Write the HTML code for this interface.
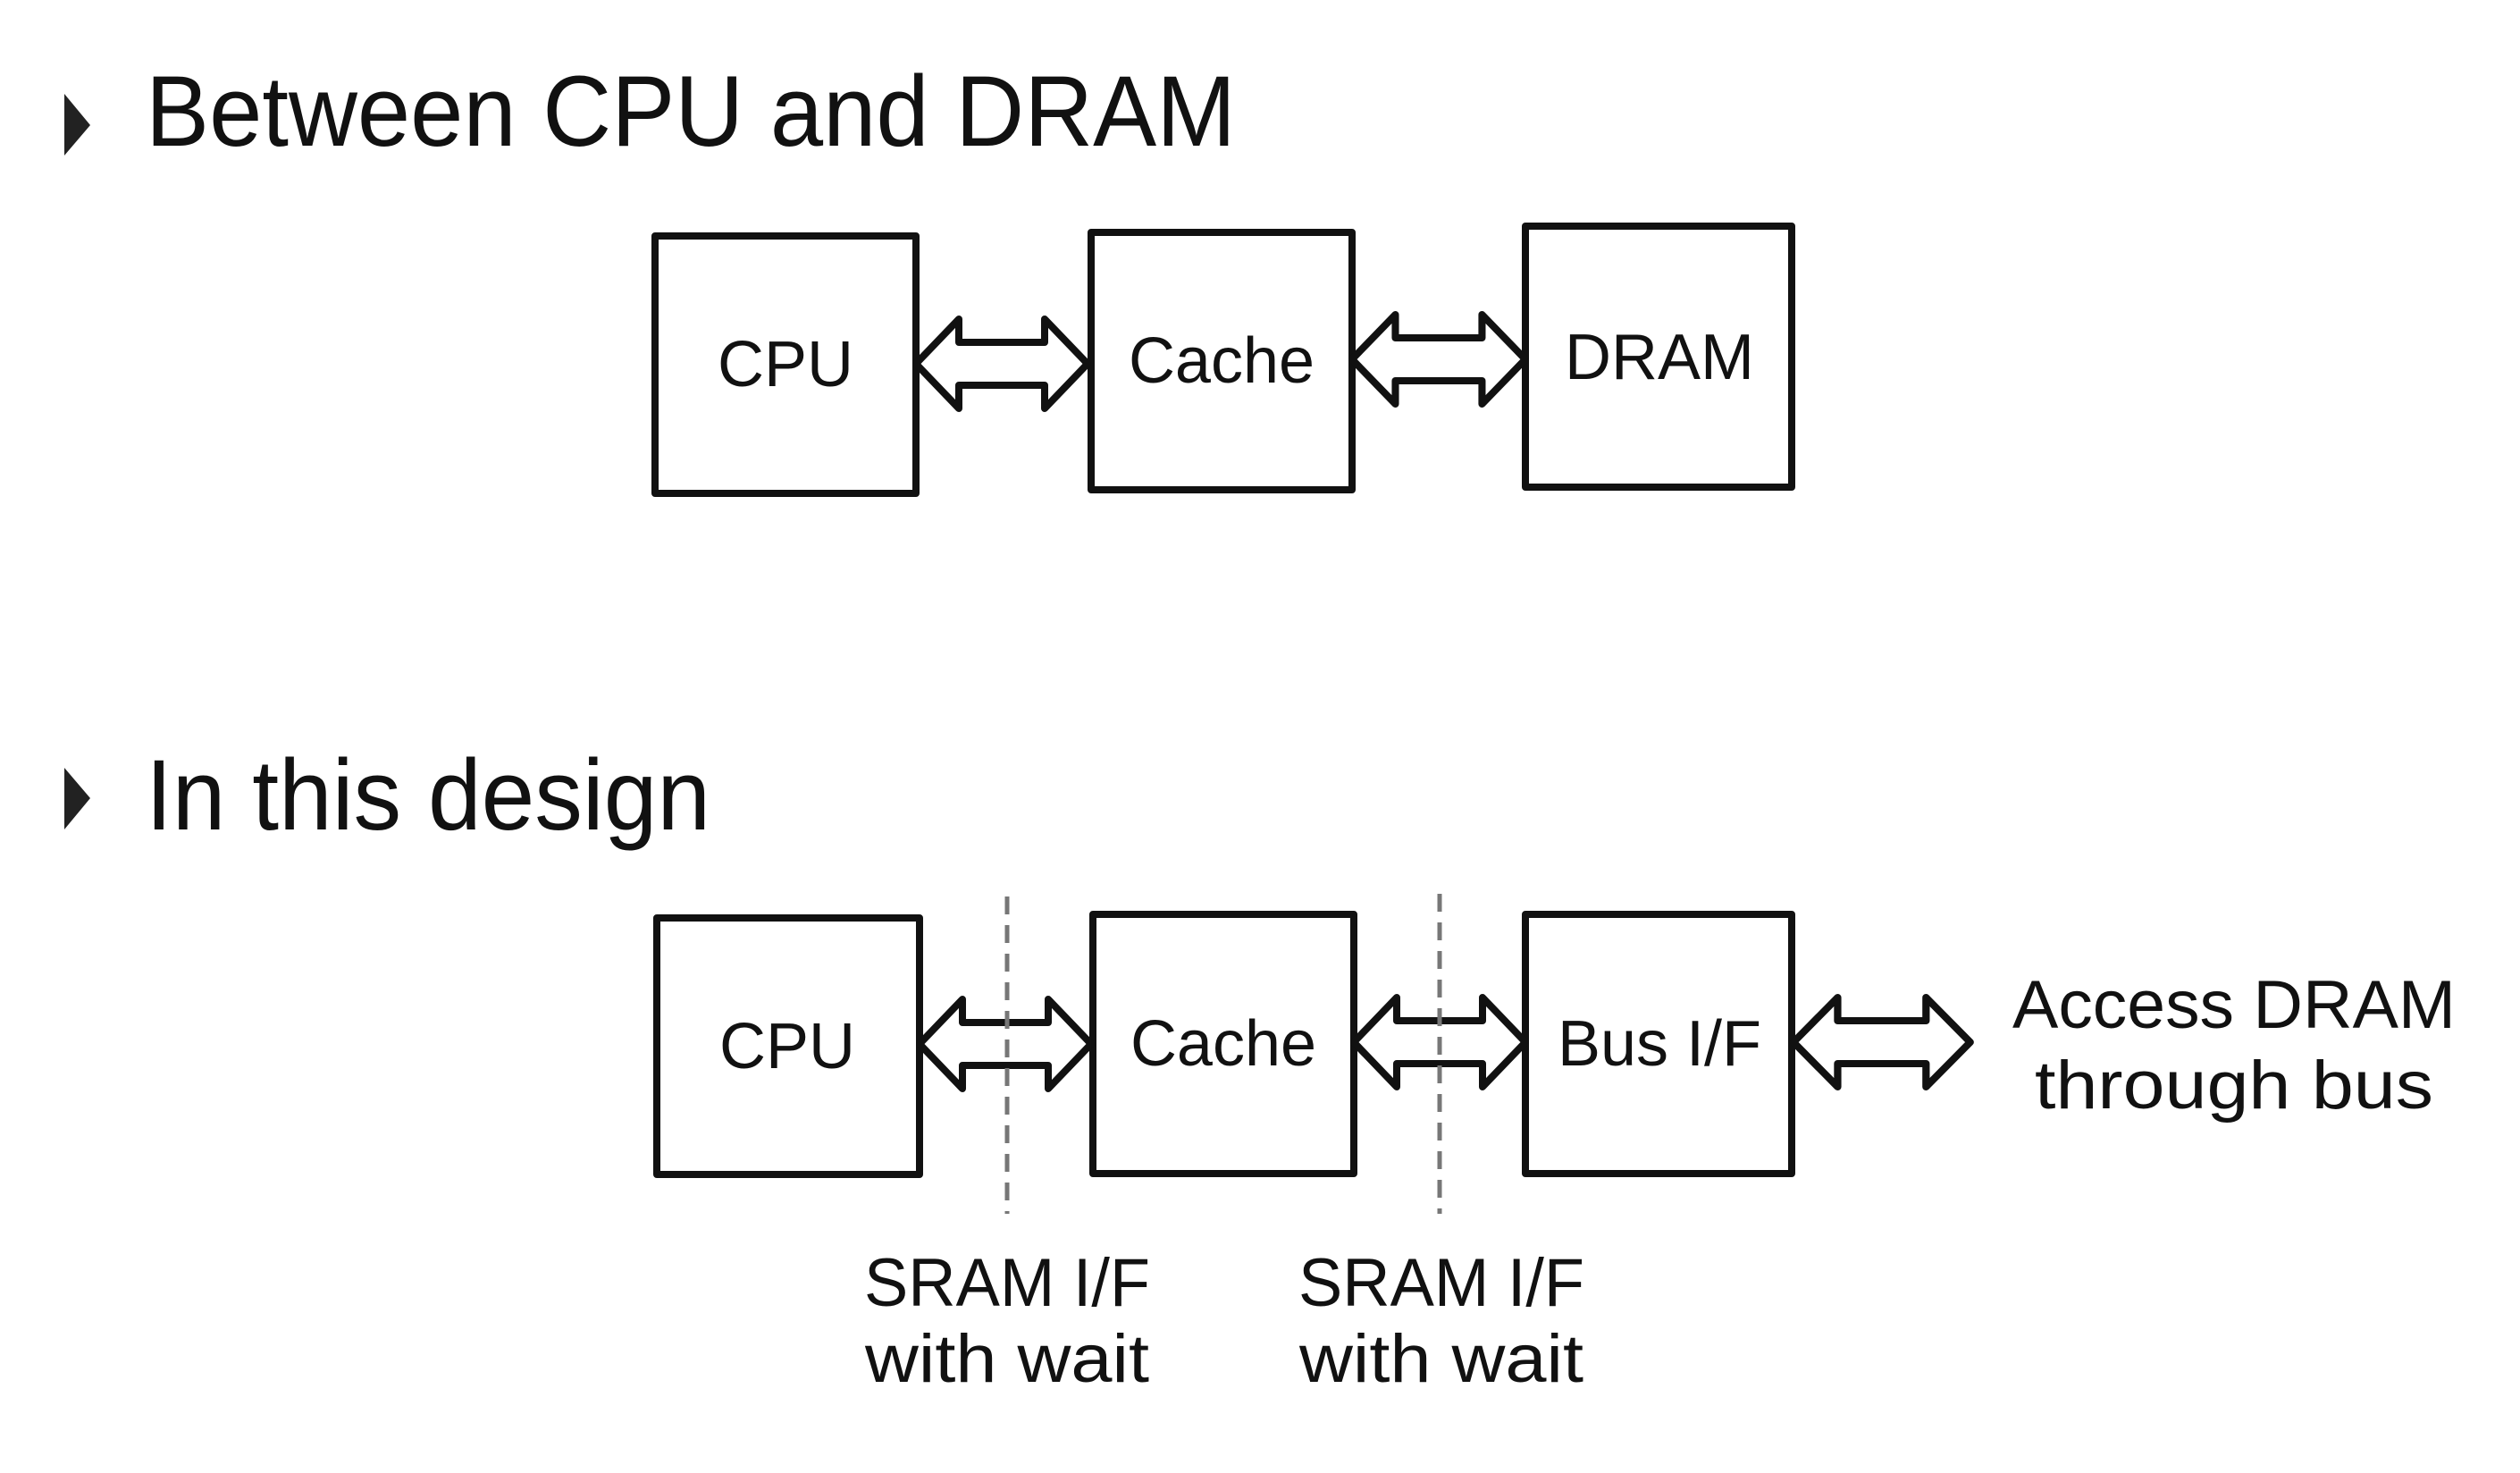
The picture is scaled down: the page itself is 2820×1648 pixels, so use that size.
<!DOCTYPE html>
<html><head><meta charset="utf-8"><style>
html,body{margin:0;padding:0;background:#fff;}
svg{display:block;}
text{font-family:"Liberation Sans",sans-serif;fill:#111;}
</style></head><body>
<svg width="2820" height="1648" viewBox="0 0 2820 1648" xmlns="http://www.w3.org/2000/svg">
<rect width="2820" height="1648" fill="#fff"/>
<polygon points="72,105 101,140 72,174" fill="#222"/>
<polygon points="72,859 101,893 72,928" fill="#222"/>
<text x="163" y="163" font-size="112" textLength="1220" lengthAdjust="spacingAndGlyphs">Between CPU and DRAM</text>
<text x="163" y="928" font-size="112" textLength="632" lengthAdjust="spacingAndGlyphs">In this design</text>

<g transform="translate(-5,0)">
<g fill="none" stroke="#111" stroke-width="8" stroke-linejoin="round">
<rect x="738" y="264" width="292" height="288"/>
<rect x="1226" y="260" width="292" height="288"/>
<rect x="1712" y="253" width="298" height="292"/>
<rect x="740" y="1027" width="294" height="287"/>
<rect x="1228" y="1023" width="292" height="290"/>
<rect x="1712" y="1023" width="298" height="290"/>
</g>

<defs>
<path id="arr" d="M0,0 L48,-50 L48,-24 L144,-24 L144,-50 L192,0 L144,50 L144,24 L48,24 L48,50 Z"/>
</defs>
<g fill="#fff" stroke="#111" stroke-width="8" stroke-linejoin="round">
<use href="#arr" transform="translate(1030,407)"/>
<use href="#arr" transform="translate(1518,402) scale(1.01,1)"/>
<use href="#arr" transform="translate(1034,1168)"/>
<use href="#arr" transform="translate(1520,1166)"/>
<use href="#arr" transform="translate(2012,1166) scale(1.03,1)"/>
</g>

<g stroke="#777" stroke-width="5" stroke-dasharray="20,12">
<line x1="1132" y1="1003" x2="1132" y2="1358"/>
<line x1="1616" y1="1000" x2="1616" y2="1358"/>
</g>

<g font-size="72" text-anchor="middle">
<text x="884" y="432">CPU</text>
<text x="1372" y="428">Cache</text>
<text x="1862" y="424">DRAM</text>
<text x="886" y="1195">CPU</text>
<text x="1374" y="1192">Cache</text>
<text x="1862" y="1192">Bus I/F</text>
</g>
<g font-size="76" text-anchor="middle">
<text x="1132" y="1461" textLength="320" lengthAdjust="spacingAndGlyphs">SRAM I/F</text>
<text x="1132" y="1546" textLength="318" lengthAdjust="spacingAndGlyphs">with wait</text>
<text x="1618" y="1461" textLength="320" lengthAdjust="spacingAndGlyphs">SRAM I/F</text>
<text x="1618" y="1546" textLength="318" lengthAdjust="spacingAndGlyphs">with wait</text>
</g>
</g>
<g font-size="76" text-anchor="middle">
<text x="2500" y="1150" textLength="496" lengthAdjust="spacingAndGlyphs">Access DRAM</text>
<text x="2500" y="1240" textLength="446" lengthAdjust="spacingAndGlyphs">through bus</text>
</g>
</svg>
</body></html>
